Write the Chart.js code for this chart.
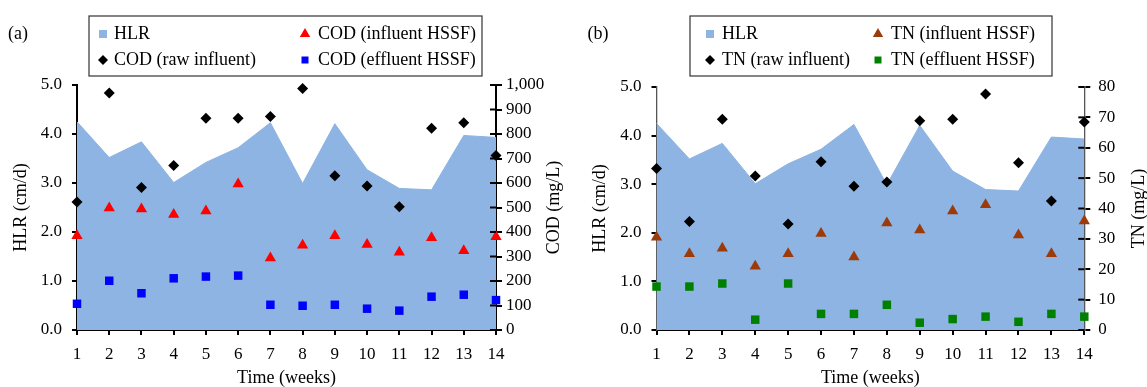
<!DOCTYPE html>
<html>
<head>
<meta charset="utf-8">
<script src="https://cdn.jsdelivr.net/npm/chart.js@4.4.1/dist/chart.umd.min.js"></script>
<style>
  html, body { margin: 0; padding: 0; background: #fff; }
  #wrap { position: relative; width: 1147px; height: 387px; overflow: hidden; }
  #wrap canvas { position: absolute; left: 0; top: 0; }
</style>
</head>
<body>
<div id="wrap">
  <canvas id="chartA" width="1147" height="387"></canvas>
  <canvas id="chartB" width="1147" height="387"></canvas>
</div>
<script>
const SERIF = '"Liberation Serif", "Times New Roman", Times, serif';
const HLR_BLUE = '#8DB4E2';

// data
const weeks = ['1', '2', '3', '4', '5', '6', '7', '8', '9', '10', '11', '12', '13', '14'];
const hlr = [4.25, 3.52, 3.84, 3.01, 3.42, 3.72, 4.23, 2.99, 4.21, 3.27, 2.89, 2.86, 3.97, 3.93];

const codRaw = [522, 967, 582, 671, 864, 864, 871, 986, 630, 588, 503, 823, 846, 712];
const codInfluent = [385, 498, 494, 471, 486, 596, 294, 346, 385, 349, 317, 377, 323, 381];
const codEffluent = [107, 201, 150, 211, 218, 222, 103, 99, 103, 87, 79, 136, 144, 122];

const tnRaw = [53.2, 35.7, 69.4, 50.7, 34.9, 55.4, 47.3, 48.7, 68.9, 69.4, 77.7, 55.1, 42.5, 68.5];
const tnInfluent = [30.5, 25.1, 26.9, 21.0, 25.1, 31.8, 24.0, 35.2, 32.9, 39.2, 41.2, 31.3, 25.1, 35.9];
const tnEffluent = [14.3, 14.3, 15.3, 3.4, 15.3, 5.3, 5.3, 8.3, 2.4, 3.6, 4.4, 2.7, 5.3, 4.4];

const hlrTicks = { min: 0, max: 5, step: 1 };
const codTicks = { min: 0, max: 1000, step: 100 };
const tnTicks = { min: 0, max: 80, step: 10 };

// draws panel letter, boxed legend, right axis title and the inner half of the right ticks
const panelDecor = {
  id: 'panelDecor',
  afterDraw(chart, args, o) {
    const ctx = chart.ctx;
    const ds = chart.data.datasets;
    ctx.save();
    ctx.fillStyle = '#000';
    ctx.font = '18px ' + SERIF;
    ctx.textBaseline = 'middle';
    ctx.textAlign = 'center';
    ctx.fillText(o.letter, o.letterX, 34);

    // legend box
    ctx.strokeStyle = '#333';
    ctx.lineWidth = 1.2;
    ctx.strokeRect(o.box[0], o.box[1], o.box[2] - o.box[0], o.box[3] - o.box[1]);

    // legend order: HLR, influent / raw, effluent
    const order = [0, 2, 1, 3];
    order.forEach((di, k) => {
      const d = ds[di];
      const col = k % 2, row = Math.floor(k / 2);
      const mx = o.markX[col], tx = o.textX[col], y = o.rowY[row];
      ctx.fillStyle = d.pointBackgroundColor || d.backgroundColor;
      drawMark(ctx, d.legendMark, mx, y);
      ctx.fillStyle = '#000';
      ctx.textAlign = 'left';
      ctx.fillText(d.label, tx, y);
    });

    // right axis: inward tick marks
    const y2 = chart.scales.y2;
    ctx.strokeStyle = '#000';
    ctx.lineWidth = 2;
    y2.ticks.forEach(t => {
      const py = y2.getPixelForValue(t.value);
      ctx.beginPath();
      ctx.moveTo(y2.left - 6, py);
      ctx.lineTo(y2.left, py);
      ctx.stroke();
    });

    // right axis title, reading bottom to top
    const ca = chart.chartArea;
    ctx.translate(o.rightTitleX, (ca.top + ca.bottom) / 2);
    ctx.rotate(-Math.PI / 2);
    ctx.textAlign = 'center';
    ctx.fillText(o.rightTitle, 0, 0);
    ctx.restore();
  }
};

function drawMark(ctx, m, x, y) {
  ctx.beginPath();
  if (m === 'hlr') {
    ctx.rect(x - 4, y - 4, 8, 8);
  } else if (m === 'dia') {
    ctx.moveTo(x, y - 5); ctx.lineTo(x + 5, y); ctx.lineTo(x, y + 5); ctx.lineTo(x - 5, y);
  } else if (m === 'tri') {
    ctx.moveTo(x, y - 6); ctx.lineTo(x + 5.2, y + 3); ctx.lineTo(x - 5.2, y + 3);
  } else {
    ctx.rect(x - 3.5, y - 3.5, 7, 7);
  }
  ctx.closePath();
  ctx.fill();
}

function markerSet(label, values, style, color, radius, mark) {
  return {
    label: label,
    data: values,
    yAxisID: 'y2',
    showLine: false,
    pointStyle: style,
    pointRadius: radius,
    pointHoverRadius: radius,
    pointBorderWidth: 0,
    pointBackgroundColor: color,
    pointBorderColor: color,
    backgroundColor: color,
    borderColor: color,
    legendMark: mark,
    clip: false,
    order: 1
  };
}

function buildPanel(id, p) {
  const tickFont = { family: SERIF, size: 17 };
  const titleFont = { family: SERIF, size: 18, lineHeight: 1 };
  return new Chart(document.getElementById(id), {
    type: 'line',
    data: {
      labels: weeks,
      datasets: [
        {
          label: 'HLR', data: hlr, yAxisID: 'y', fill: 'origin',
          backgroundColor: HLR_BLUE, borderColor: HLR_BLUE, borderWidth: 1,
          pointRadius: 0, tension: 0, order: 9, legendMark: 'hlr'
        },
        markerSet(p.name + ' (raw influent)', p.raw, 'rectRot', '#000', 5.5, 'dia'),
        markerSet(p.name + ' (influent HSSF)', p.inf, 'triangle', p.infColor, 6.5, 'tri'),
        markerSet(p.name + ' (effluent HSSF)', p.eff, 'rect', p.effColor, 6, 'sq')
      ]
    },
    options: {
      responsive: false,
      animation: false,
      events: [],
      layout: {
        autoPadding: false,
        padding: { left: p.left - 77, right: 1147 - p.right - 60, top: p.top, bottom: 0 }
      },
      plugins: {
        legend: { display: false },
        tooltip: { enabled: false },
        panelDecor: p.decor
      },
      scales: {
        x: {
          grid: { drawOnChartArea: false, tickLength: 5, color: '#000', lineWidth: 2 },
          border: { color: '#000', width: 2 },
          ticks: { color: '#000', font: tickFont, padding: 9, maxRotation: 0, autoSkip: false },
          title: { display: true, text: 'Time (weeks)', color: '#000', font: titleFont, padding: 0 },
          afterFit: s => { s.height = 387 - p.bottom; s.paddingLeft = 0; s.paddingRight = 0; }
        },
        y: {
          position: 'left',
          min: hlrTicks.min, max: hlrTicks.max,
          grid: { drawOnChartArea: false, tickLength: 5, color: '#000', lineWidth: 2 },
          border: { color: p.axisColor, width: p.axisWidth },
          ticks: { stepSize: hlrTicks.step, color: '#000', font: tickFont, padding: 10, callback: v => v.toFixed(1) },
          title: { display: true, text: 'HLR (cm/d)', color: '#000', font: titleFont, padding: { top: 12, bottom: 0 } },
          afterFit: s => { s.width = 77; s.paddingTop = 0; s.paddingBottom = 0; }
        },
        y2: {
          position: 'right',
          min: p.rightTicks.min, max: p.rightTicks.max,
          grid: { drawOnChartArea: false, tickLength: 6, color: '#000', lineWidth: 2 },
          border: { color: p.axisColor, width: p.axisWidth },
          ticks: { stepSize: p.rightTicks.step, color: '#000', font: tickFont, padding: p.rightPad,
                   callback: v => v.toLocaleString('en-US') },
          afterFit: s => { s.width = 60; s.paddingTop = 0; s.paddingBottom = 0; }
        }
      }
    },
    plugins: [panelDecor]
  });
}

buildPanel('chartA', {
  name: 'COD', raw: codRaw, inf: codInfluent, eff: codEffluent,
  infColor: '#FF0000', effColor: '#0000FF',
  left: 77, right: 496, top: 85, bottom: 330,
  axisColor: '#000', axisWidth: 2, rightPad: 4, rightTicks: codTicks,
  decor: {
    letter: '(a)', letterX: 18, box: [89, 16, 482, 76],
    markX: [103, 305], textX: [114, 318], rowY: [34, 60],
    rightTitle: 'COD (mg/L)', rightTitleX: 554
  }
});

buildPanel('chartB', {
  name: 'TN', raw: tnRaw, inf: tnInfluent, eff: tnEffluent,
  infColor: '#9C3A0A', effColor: '#008000',
  left: 656.5, right: 1084.3, top: 87, bottom: 330,
  axisColor: '#555', axisWidth: 1.3, rightPad: 8, rightTicks: tnTicks,
  decor: {
    letter: '(b)', letterX: 598, box: [690, 16, 1052, 76],
    markX: [710, 878], textX: [722, 891], rowY: [34, 60],
    rightTitle: 'TN (mg/L)', rightTitleX: 1139
  }
});
</script>
</body>
</html>
